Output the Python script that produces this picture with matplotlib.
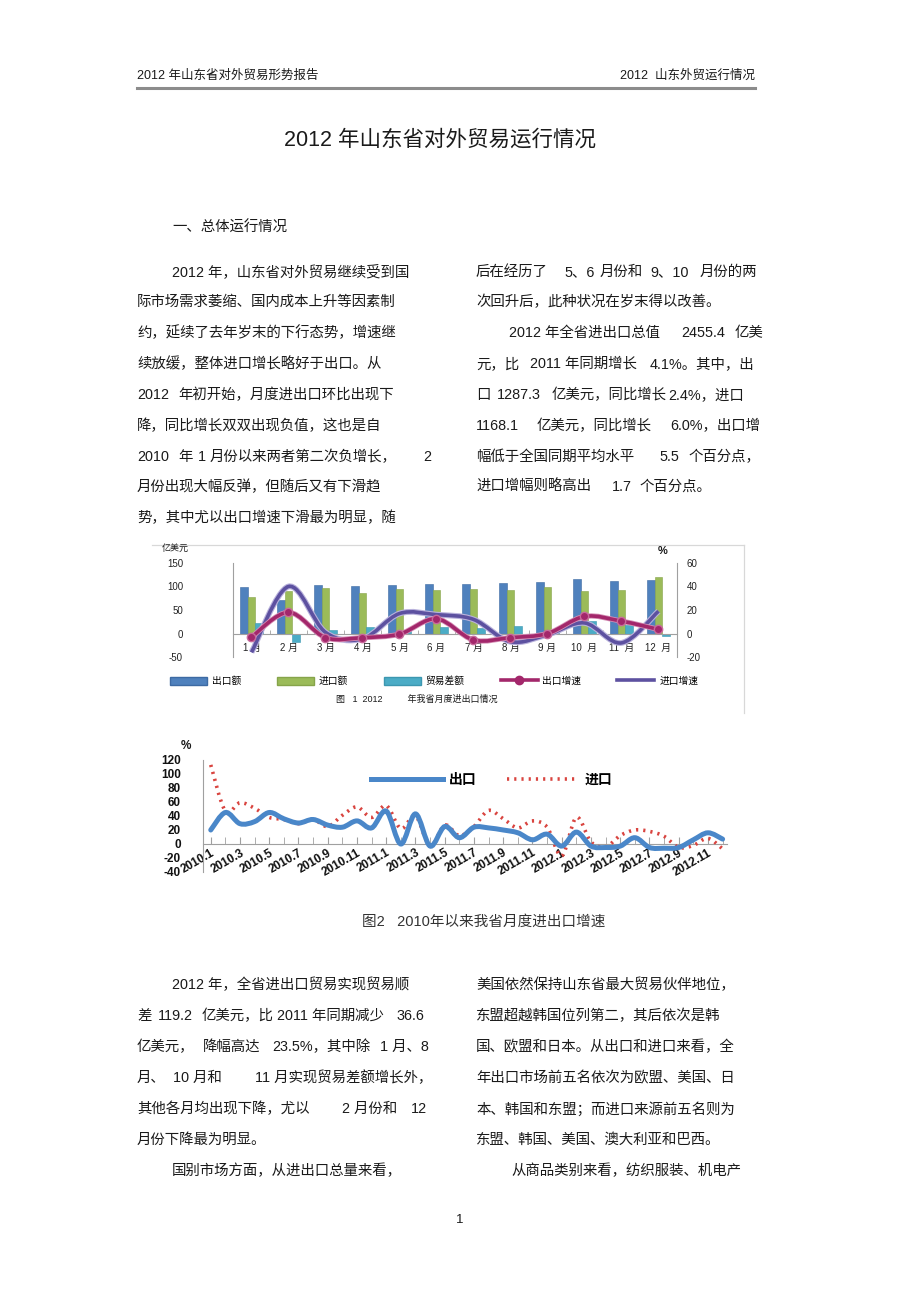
import numpy as np
import matplotlib
matplotlib.use("Agg")
import matplotlib.pyplot as plt
from matplotlib.path import Path
from matplotlib.patches import PathPatch, Patch
from matplotlib.lines import Line2D
import matplotlib.patheffects as pe

plt.rcParams['font.family'] = ['Liberation Sans', 'Noto Sans CJK SC', 'DejaVu Sans']
plt.rcParams['axes.unicode_minus'] = False

W, H = 920, 1303

# ---------------- data: chart 1 (2012 monthly) ----------------
months_2012 = ['1 月', '2 月', '3 月', '4 月', '5 月', '6 月', '7 月', '8 月', '9 月', '10  月', '11  月', '12  月']
export_amt = [99, 71, 103, 101, 103, 106, 106, 108, 110, 116, 112, 114]
import_amt = [77, 90, 97, 87, 95, 92, 95, 92, 99, 90, 92, 120]
balance_amt = [22, -18, 7, 14, 7, 14, 12, 15, 6, 27, 18, -5]
export_growth = [-3, 18, -3.5, -3.5, -0.5, 12.5, -5.5, -3.5, 0, 14.5, 10.5, 3.5]
import_growth = [-16, 40, 1, -4.5, 17, 16, 12, -7, -1, 9, -8, 19]

# ---------------- data: chart 2 (2010.1 - 2012.12) ----------------
x_labels2 = ['2010.1', '2010.3', '2010.5', '2010.7', '2010.9', '2010.11',
             '2011.1', '2011.3', '2011.5', '2011.7', '2011.9', '2011.11',
             '2012.1', '2012.3', '2012.5', '2012.7', '2012.9', '2012.11']
export_rate = [20, 45, 29, 32, 45, 36, 30, 35, 27, 24, 33, 23,
               47, 0, 43, -3, 25, 9, 24, 23, 20, 16, 6, 14,
               -3, 17, -3, -5, -3, 9, -5, -6, -5, 6, 16, 7]
import_rate = [113, 47, 59, 51, 38, 35, 29, 35, 25, 41, 53, 38,
               55, 22, 40, -3, 27, 12, 25, 48, 36, 23, 33, 24,
               -17, 38, 3, -4, 12, 20, 18, 11, -5, -2, 8, -7]


def fx(x):
    return x / W


def fy(y):
    return 1 - y / H


fig = plt.figure(figsize=(W / 100, H / 100), dpi=100)
fig.patch.set_facecolor('white')

TXT = '#1a1a1a'
FS = 10.4


def T(x, y, s, fs=FS, **kw):
    kw.setdefault('color', TXT)
    kw.setdefault('va', 'center')
    fig.text(fx(x), fy(y), s, fontsize=fs, **kw)


def smooth(ax, xs, ys, **kw):
    pts = np.column_stack([xs, ys]).astype(float)
    n = len(pts)
    verts = [pts[0]]
    codes = [Path.MOVETO]
    for i in range(n - 1):
        p0 = pts[i - 1] if i > 0 else pts[i]
        p1 = pts[i]
        p2 = pts[i + 1]
        p3 = pts[i + 2] if i + 2 < n else pts[i + 1]
        c1 = p1 + (p2 - p0) / 6.0
        c2 = p2 - (p3 - p1) / 6.0
        verts += [c1, c2, p2]
        codes += [Path.CURVE4] * 3
    patch = PathPatch(Path(verts, codes), fill=False, **kw)
    ax.add_patch(patch)
    return patch


# ---------------- header ----------------
T(137, 76, '2012 年山东省对外贸易形势报告', fs=9)
T(755, 76, '2012  山东外贸运行情况', fs=9, ha='right')
fig.add_artist(Line2D([fx(137), fx(755)], [fy(88), fy(88)], color='#8c8c8c', lw=2.2))
T(440, 140, '2012 年山东省对外贸易运行情况', fs=15.5, ha='center')
T(172, 228, '一、总体运行情况', fs=FS)

# left column, upper
left_upper = [
    (272, [(172, '2012 年，山东省对外贸易继续受到国')]),
    (302, [(137, '际市场需求萎缩、国内成本上升等因素制')]),
    (333, [(137, '约，延续了去年岁末的下行态势，增速继')]),
    (364, [(137, '续放缓，整体进口增长略好于出口。从')]),
    (395, [(137, '2012'), (178, '年初开始，月度进出口环比出现下')]),
    (426, [(137, '降，同比增长双双出现负值，这也是自')]),
    (457, [(137, '2010'), (178, '年'), (198, '1'), (210, '月份以来两者第二次负增长，'), (423, '2')]),
    (487, [(137, '月份出现大幅反弹，但随后又有下滑趋')]),
    (518, [(137, '势，其中尤以出口增速下滑最为明显，随')]),
]
right_upper = [
    (272, [(476, '后在经历了'), (564, '5、6'), (600, '月份和'), (650, '9、10'), (700, '月份的两')]),
    (302, [(476, '次回升后，此种状况在岁末得以改善。')]),
    (333, [(509, '2012 年全省进出口总值'), (681, '2455.4'), (735, '亿美')]),
    (364, [(476, '元，比'), (530, '2011 年同期增长'), (650, '4.1%。其中，出')]),
    (395, [(476, '口'), (497, '1287.3'), (552, '亿美元，同比增长'), (668, '2.4%，进口')]),
    (426, [(476, '1168.1'), (537, '亿美元，同比增长'), (670, '6.0%，出口增')]),
    (457, [(476, '幅低于全国同期平均水平'), (659, '5.5'), (689, '个百分点，')]),
    (487, [(476, '进口增幅则略高出'), (612, '1.7'), (640, '个百分点。')]),
]
left_lower = [
    (985, [(172, '2012 年，全省进出口贸易实现贸易顺')]),
    (1016, [(137, '差'), (158, '119.2'), (202, '亿美元，比'), (277, '2011 年同期减少'), (397, '36.6')]),
    (1047, [(137, '亿美元，'), (203, '降幅高达'), (272, '23.5%，其中除'), (380, '1 月、8')]),
    (1078, [(137, '月、'), (173, '10 月和'), (255, '11 月实现贸易差额增长外，')]),
    (1109, [(137, '其他各月均出现下降，尤以'), (342, '2 月份和'), (411, '12')]),
    (1140, [(137, '月份下降最为明显。')]),
    (1171, [(172, '国别市场方面，从进出口总量来看，')]),
]
right_lower = [
    (985, [(476, '美国依然保持山东省最大贸易伙伴地位，')]),
    (1016, [(476, '东盟超越韩国位列第二，其后依次是韩')]),
    (1047, [(476, '国、欧盟和日本。从出口和进口来看，全')]),
    (1078, [(476, '年出口市场前五名依次为欧盟、美国、日')]),
    (1109, [(476, '本、韩国和东盟；而进口来源前五名则为')]),
    (1140, [(476, '东盟、韩国、美国、澳大利亚和巴西。')]),
    (1171, [(511, '从商品类别来看，纺织服装、机电产')]),
]
for block in (left_upper, right_upper, left_lower, right_lower):
    for y, segs in block:
        for x, s in segs:
            T(x, y, s)

T(460, 1220, '1', fs=9.5, ha='center')

# ---------------- chart 1 ----------------
GRAY = '#a0a0a0'
fig.add_artist(Line2D([fx(152), fx(744)], [fy(545), fy(545)], color='#d8d8d8', lw=0.9))
fig.add_artist(Line2D([fx(744), fx(744)], [fy(545), fy(713)], color='#d8d8d8', lw=0.9))

ax1 = fig.add_axes([fx(233), fy(657), (677 - 233) / W, (657 - 563) / H])
x = np.arange(len(months_2012))
bw = 0.215
ax1.bar(x - bw, export_amt, bw, color='#4F81BD', edgecolor='#3d6aa3', linewidth=0.4, zorder=2)
ax1.bar(x, import_amt, bw, color='#9BBB59', edgecolor='#86a44a', linewidth=0.4, zorder=2)
ax1.bar(x + bw, balance_amt, bw, color='#4BACC6', edgecolor='#3c97b0', linewidth=0.4, zorder=2)
ax1.set_xlim(-0.5, len(months_2012) - 0.5)
ax1.set_ylim(-50, 150)
ax1.set_yticks([-50, 0, 50, 100, 150])
ax1.tick_params(axis='y', length=0, pad=36, labelsize=7, colors='#222')
ax1.set_xticks(x)
ax1.set_xticklabels(months_2012)
ax1.set_xticks(np.arange(-0.5, len(months_2012), 1), minor=True)
ax1.tick_params(axis='x', which='major', length=0, pad=7, labelsize=7, colors='#222')
ax1.tick_params(axis='x', which='minor', length=3, direction='in', color=GRAY)
for s in ['top', 'right']:
    ax1.spines[s].set_visible(False)
ax1.spines['bottom'].set_position(('data', 0))
ax1.spines['bottom'].set_color(GRAY)
ax1.spines['left'].set_color(GRAY)
ax1.patch.set_alpha(0)

ax2 = ax1.twinx()
ax2.set_ylim(-20, 60)
ax2.set_yticks([-20, 0, 20, 40, 60])
ax2.tick_params(axis='y', length=0, pad=7, labelsize=7, colors='#222')
for s in ['top', 'left', 'bottom']:
    ax2.spines[s].set_visible(False)
ax2.spines['right'].set_color(GRAY)

smooth(ax2, x, import_growth, edgecolor='#5d51a0', lw=2.6, zorder=4,
       path_effects=[pe.Stroke(linewidth=4.2, foreground='#b9b2dc'), pe.Normal()])
smooth(ax2, x, export_growth, edgecolor='#a3276b', lw=2.6, zorder=5,
       path_effects=[pe.Stroke(linewidth=3.8, foreground='#d58fb5'), pe.Normal()])
ax2.plot(x, export_growth, linestyle='none', marker='o', ms=6, color='#a3276b',
         markeredgecolor='#c86a9c', zorder=6)

T(162, 548, '亿美元', fs=6.5)
T(658, 551, '%', fs=8, fontweight='bold')

handles1 = [Patch(facecolor='#4F81BD', edgecolor='#3d6aa3'),
            Patch(facecolor='#9BBB59', edgecolor='#86a44a'),
            Patch(facecolor='#4BACC6', edgecolor='#3c97b0'),
            Line2D([], [], color='#a3276b', lw=2.6, marker='o', ms=6),
            Line2D([], [], color='#5d51a0', lw=2.6)]
labels1 = ['出口额', '进口额', '贸易差额', '出口增速', '进口增速']
fig.legend(handles1, labels1, loc='center', bbox_to_anchor=(fx(434), fy(681)), ncol=5,
           frameon=False, fontsize=7, handlelength=3.8, handleheight=0.9,
           columnspacing=3.7, handletextpad=0.5)
T(336, 699, '图   1  2012          年我省月度进出口情况', fs=6.5)

# ---------------- chart 2 ----------------
ax3 = fig.add_axes([fx(203), fy(872), (727 - 203) / W, (872 - 760) / H])
m = np.arange(len(export_rate))
smooth(ax3, m, export_rate, edgecolor='#4a87c9', lw=3.6, zorder=4, capstyle='round')
smooth(ax3, m, import_rate, edgecolor='#d9443f', lw=2.6, zorder=3, linestyle=(0, (0.6, 1.4)))
ax3.set_xlim(-0.53, 35.3)
ax3.set_ylim(-40, 120)
ax3.set_yticks(np.arange(-40, 121, 20))
ax3.tick_params(axis='y', length=0, pad=16, labelsize=8.5, colors='#111')
ax3.set_xticks(np.arange(0, 36, 2))
ax3.set_xticks(np.arange(1, 36, 2), minor=True)
ax3.tick_params(axis='x', which='both', length=5, direction='in', color=GRAY, pad=2,
                labelsize=8.5, labelcolor='#111')
ax3.set_xticklabels(x_labels2)
for s in ['top', 'right']:
    ax3.spines[s].set_visible(False)
ax3.spines['bottom'].set_position(('data', 0))
ax3.spines['bottom'].set_color(GRAY)
ax3.spines['left'].set_color(GRAY)
ax3.patch.set_alpha(0)

T(186, 746, '%', fs=8.5, fontweight='bold', ha='center')

handles2 = [Line2D([], [], color='#4a87c9', lw=3.6),
            Line2D([], [], color='#d9443f', lw=2.6, linestyle=(0, (0.6, 1.4)))]
fig.legend(handles2, ['出口', '进口'], loc='center', bbox_to_anchor=(fx(492), fy(780)), ncol=2,
           frameon=False, prop={'size': 10, 'weight': 'bold'}, handlelength=5.2,
           columnspacing=2.2, handletextpad=0.4)

T(484, 922, '图2   2010年以来我省月度进出口增速', fs=10.5, ha='center', color='#333')

# finalize tick label styles (after all tick setup)
for lab in ax3.get_yticklabels():
    lab.set_fontweight('bold')
for lab in ax3.get_xticklabels():
    lab.set_rotation(30)
    lab.set_ha('right')
    lab.set_va('top')
    lab.set_rotation_mode('anchor')
    lab.set_fontweight('bold')

fig.savefig('out.png', dpi=100, facecolor='white')
